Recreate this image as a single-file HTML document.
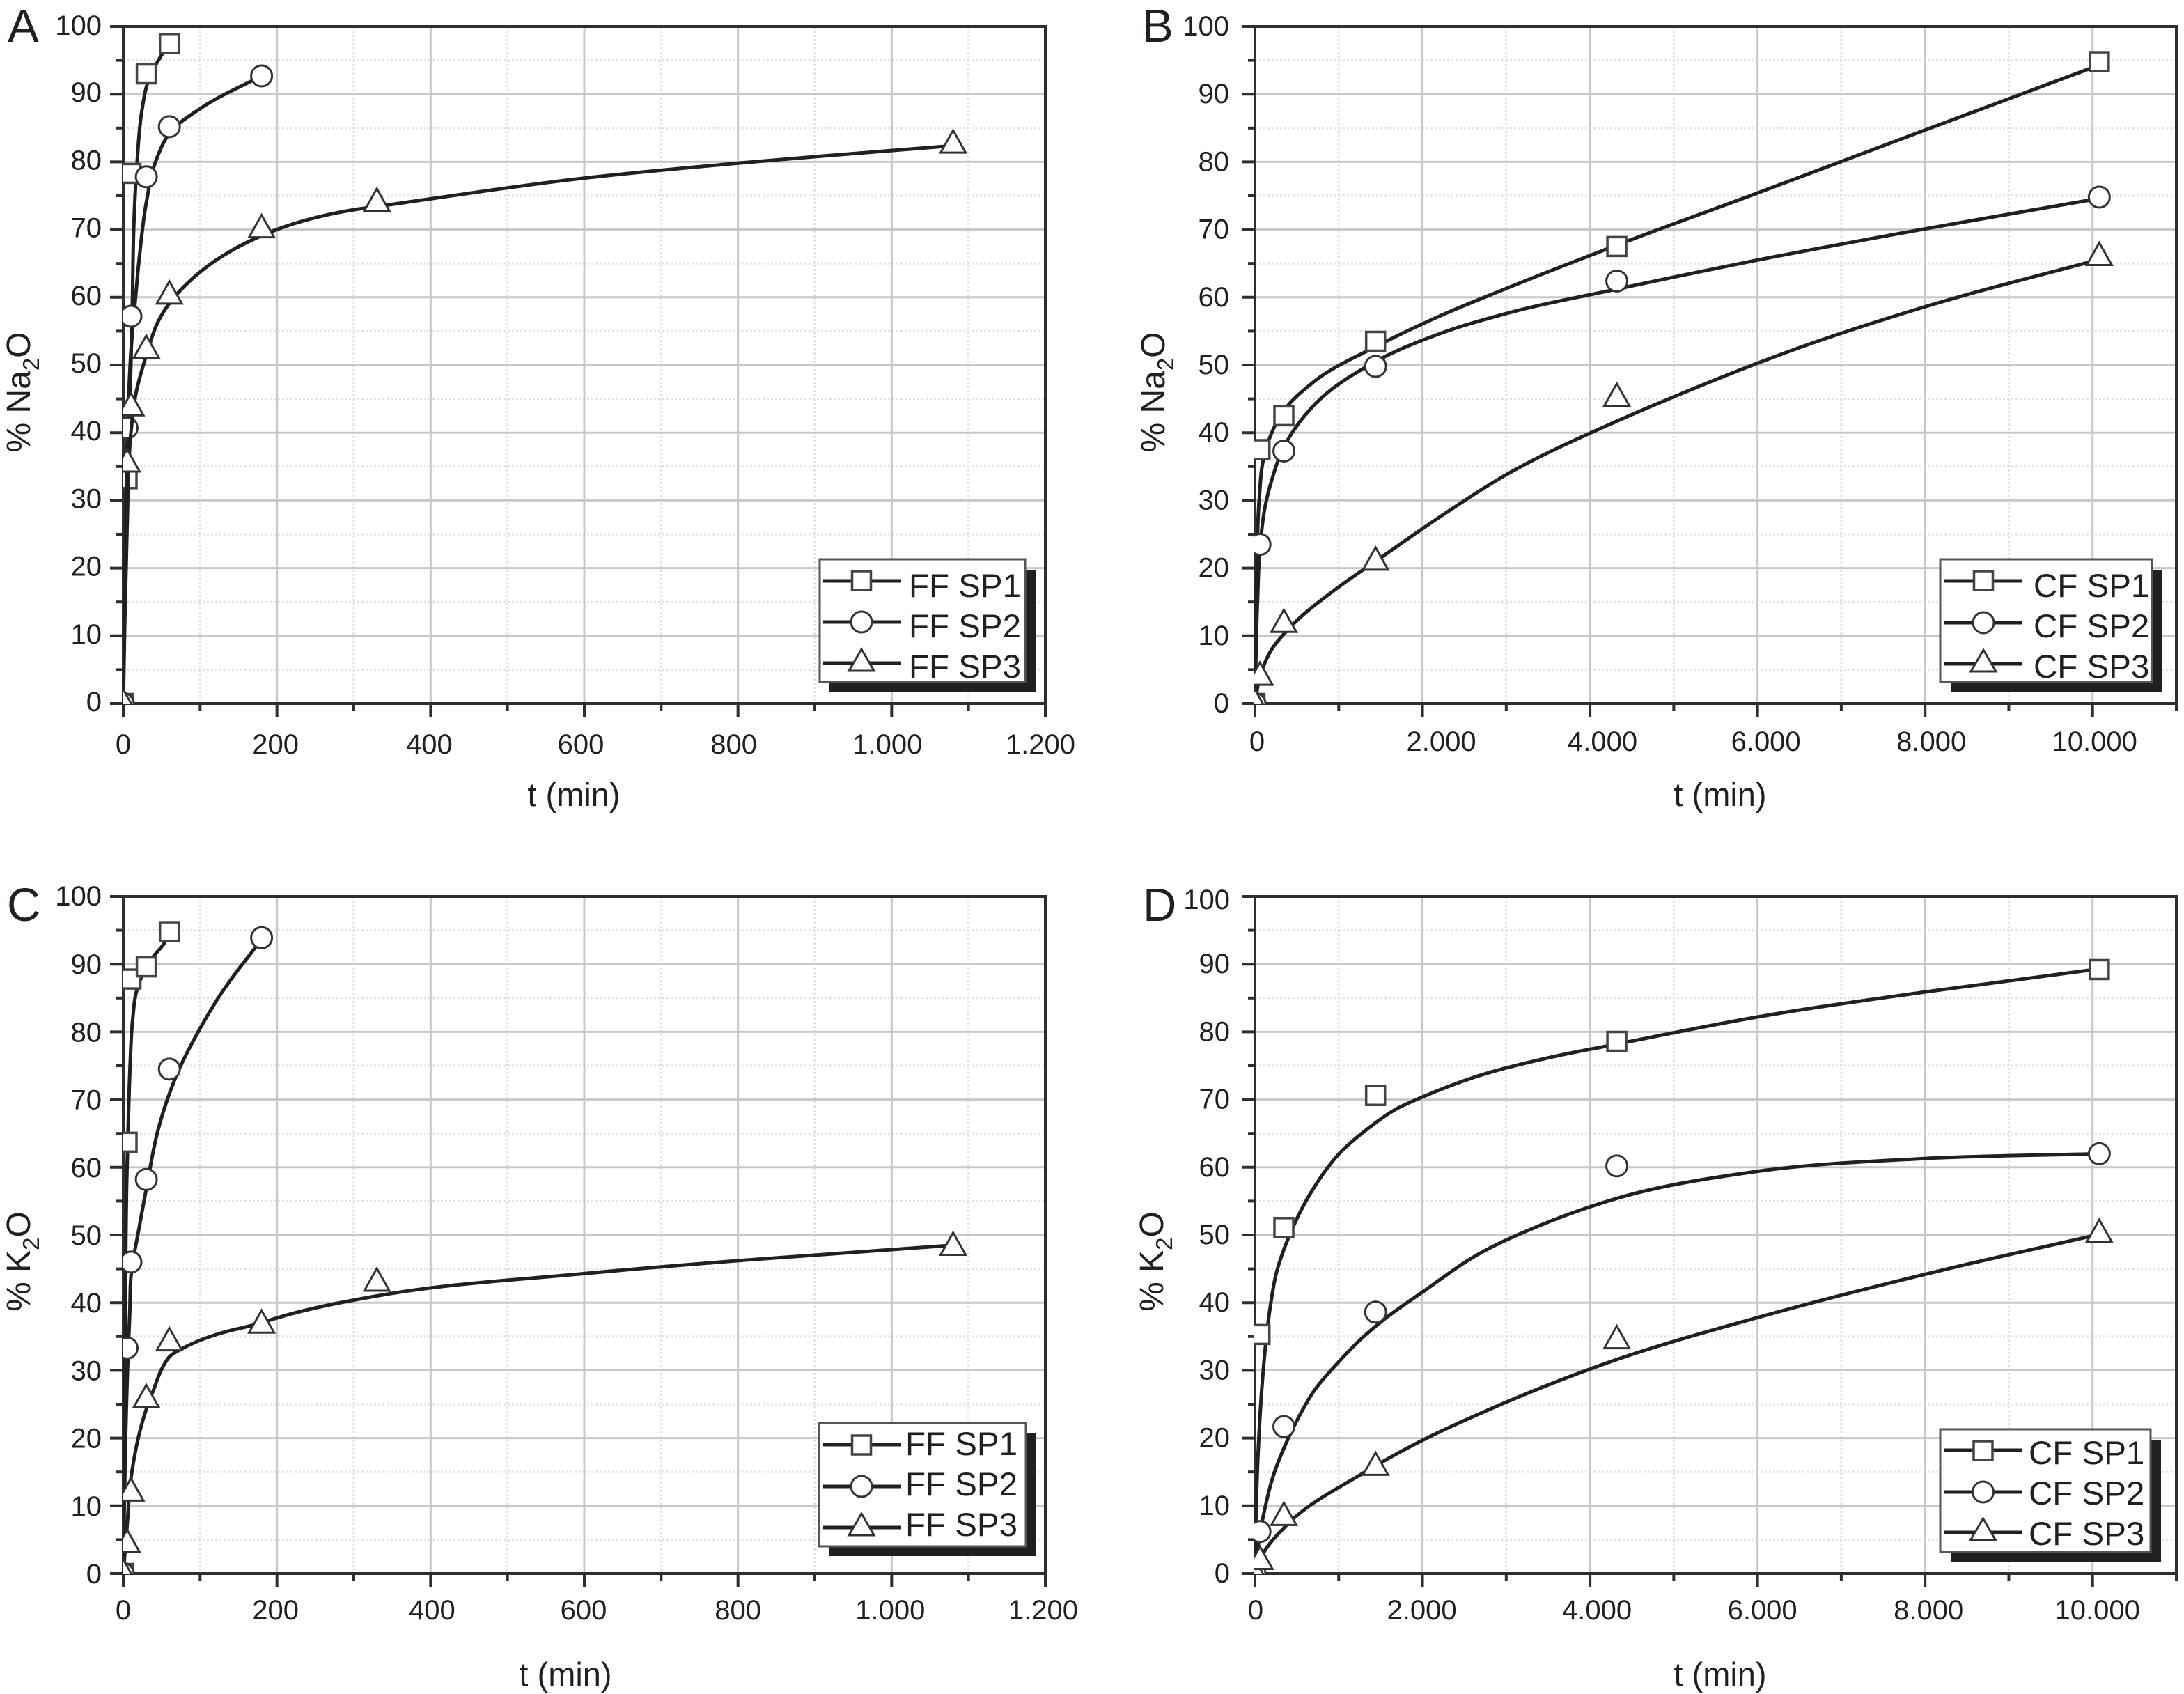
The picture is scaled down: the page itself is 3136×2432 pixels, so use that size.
<!DOCTYPE html>
<html lang="en">
<head>
<meta charset="utf-8">
<title>Na2O and K2O release versus time</title>
<style>
html,body{margin:0;padding:0;background:#fff;}
svg{display:block;}
text{font-family:"Liberation Sans",Arial,sans-serif;fill:#231f20;}
.leg{font-size:47.5px;}
.axt{font-size:47px;}
.ylt{font-size:48px;}
.let{font-size:67px;}
.tick{font-size:40px;}
</style>
</head>
<body>
<svg id="fig" xmlns="http://www.w3.org/2000/svg" width="3136" height="2432" viewBox="0 0 3136 2432">
<rect x="0" y="0" width="3136" height="2432" fill="#fff"/>
<g id="plot-a"></g>
<g id="plot-b"></g>
<g id="plot-c"></g>
<g id="plot-d"></g>

<text class="let" x="11" y="60">A</text>
<text class="let" x="1640" y="60">B</text>
<text class="let" x="10" y="1322">C</text>
<text class="let" x="1641" y="1322">D</text>

<text class="axt" x="824" y="1157" text-anchor="middle">t (min)</text>
<text class="axt" x="2470" y="1157" text-anchor="middle">t (min)</text>
<text class="axt" x="812" y="2420" text-anchor="middle">t (min)</text>
<text class="axt" x="2470" y="2420" text-anchor="middle">t (min)</text>

<text class="ylt" transform="translate(43,563) rotate(-90)" text-anchor="middle">% Na<tspan font-size="33" dy="13">2</tspan><tspan dy="-13">O</tspan></text>
<text class="ylt" transform="translate(1672,563) rotate(-90)" text-anchor="middle">% Na<tspan font-size="33" dy="13">2</tspan><tspan dy="-13">O</tspan></text>
<text class="ylt" transform="translate(43,1811) rotate(-90)" text-anchor="middle">% K<tspan font-size="33" dy="13">2</tspan><tspan dy="-13">O</tspan></text>
<text class="ylt" transform="translate(1670,1811) rotate(-90)" text-anchor="middle">% K<tspan font-size="33" dy="13">2</tspan><tspan dy="-13">O</tspan></text>

<g>
  <rect x="1191" y="818" width="296" height="176" fill="#231f20"/>
  <rect x="1177" y="803" width="295" height="176" fill="#fff" stroke="#555" stroke-width="3"/>
  <g><line x1="1182" x2="1294" y1="834" y2="834" stroke="#231f20" stroke-width="5"/><rect x="1223.5" y="820" width="27" height="27" fill="#fff" stroke="#444" stroke-width="3.5"/><text class="leg" x="1305" y="857">FF SP1</text></g>
  <g><line x1="1182" x2="1294" y1="893" y2="893" stroke="#231f20" stroke-width="5"/><circle cx="1237" cy="893" r="15" fill="#fff" stroke="#333" stroke-width="3"/><text class="leg" x="1305" y="915">FF SP2</text></g>
  <g><line x1="1182" x2="1294" y1="952" y2="952" stroke="#231f20" stroke-width="5"/><polygon points="1237,932 1255,963 1219,963" fill="#fff" stroke="#333" stroke-width="3"/><text class="leg" x="1305" y="973">FF SP3</text></g>
</g>
<g>
  <rect x="2801" y="818" width="304" height="176" fill="#231f20"/>
  <rect x="2786" y="803" width="304" height="176" fill="#fff" stroke="#555" stroke-width="3"/>
  <g><line x1="2792" x2="2904" y1="834" y2="834" stroke="#231f20" stroke-width="5"/><rect x="2834.5" y="820" width="27" height="27" fill="#fff" stroke="#444" stroke-width="3.5"/><text class="leg" x="2920" y="857">CF SP1</text></g>
  <g><line x1="2792" x2="2904" y1="894" y2="894" stroke="#231f20" stroke-width="5"/><circle cx="2848" cy="894" r="15" fill="#fff" stroke="#333" stroke-width="3"/><text class="leg" x="2920" y="915">CF SP2</text></g>
  <g><line x1="2792" x2="2904" y1="953" y2="953" stroke="#231f20" stroke-width="5"/><polygon points="2848,933 2866,964 2830,964" fill="#fff" stroke="#333" stroke-width="3"/><text class="leg" x="2920" y="973">CF SP3</text></g>
</g>
<g>
  <rect x="1190" y="2058" width="297" height="176" fill="#231f20"/>
  <rect x="1176" y="2043" width="297" height="177" fill="#fff" stroke="#555" stroke-width="3"/>
  <g><line x1="1182" x2="1294" y1="2074" y2="2074" stroke="#231f20" stroke-width="5"/><rect x="1223.5" y="2061" width="27" height="27" fill="#fff" stroke="#444" stroke-width="3.5"/><text class="leg" x="1300" y="2089">FF SP1</text></g>
  <g><line x1="1182" x2="1294" y1="2134" y2="2134" stroke="#231f20" stroke-width="5"/><circle cx="1237" cy="2134" r="15" fill="#fff" stroke="#333" stroke-width="3"/><text class="leg" x="1300" y="2147">FF SP2</text></g>
  <g><line x1="1182" x2="1294" y1="2193" y2="2193" stroke="#231f20" stroke-width="5"/><polygon points="1237,2173 1255,2204 1219,2204" fill="#fff" stroke="#333" stroke-width="3"/><text class="leg" x="1300" y="2205">FF SP3</text></g>
</g>
<g>
  <rect x="2801" y="2067" width="302" height="175" fill="#231f20"/>
  <rect x="2786" y="2052" width="302" height="176" fill="#fff" stroke="#555" stroke-width="3"/>
  <g><line x1="2792" x2="2903" y1="2082" y2="2082" stroke="#231f20" stroke-width="5"/><rect x="2834" y="2069" width="27" height="27" fill="#fff" stroke="#444" stroke-width="3.5"/><text class="leg" x="2913" y="2102">CF SP1</text></g>
  <g><line x1="2792" x2="2903" y1="2142" y2="2142" stroke="#231f20" stroke-width="5"/><circle cx="2847.5" cy="2142" r="15" fill="#fff" stroke="#333" stroke-width="3"/><text class="leg" x="2913" y="2160">CF SP2</text></g>
  <g><line x1="2792" x2="2903" y1="2200" y2="2200" stroke="#231f20" stroke-width="5"/><polygon points="2847.5,2180 2865.5,2211 2829.5,2211" fill="#fff" stroke="#333" stroke-width="3"/><text class="leg" x="2913" y="2218">CF SP3</text></g>
</g>
</svg>
<script>
// Axis ticks and labels
const yMajorTicks = [0,10,20,30,40,50,60,70,80,90,100];
const yMinorTicks = [5,15,25,35,45,55,65,75,85,95];
const yTickLabels = ['0','10','20','30','40','50','60','70','80','90','100'];
const ffMajorTicks = [0,200,400,600,800,1000,1200];
const ffMinorTicks = [100,300,500,700,900,1100];
const ffTickLabels = ['0','200','400','600','800','1.000','1.200'];
const cfMajorTicks = [0,2000,4000,6000,8000,10000];
const cfMinorTicks = [1000,3000,5000,7000,9000,11000];
const cfTickLabels = ['0','2.000','4.000','6.000','8.000','10.000'];

// Sampling times (min)
const ffSp1Times = [0,5,10,30,60];
const ffSp2Times = [0,5,10,30,60,180];
const ffSp3Times = [0,5,10,30,60,180,330,1080];
const cfTimes = [0,60,345,1440,4320,10080];

// Panel A: Na2O, fine fraction
const aSp1Values = [0,33.2,78.3,93,97.5];
const aSp2Values = [0,40.7,57.2,77.8,85.2,92.7];
const aSp3Values = [0,35.5,43.8,52.3,60.3,70.1,74,82.6];
const aSp1FitT = [0,1,2.7,4.5,7,10,12,13.6,18,24,31,51,60];
const aSp1FitV = [0,10,20,30,40,50,60,70,80,87.4,91.4,96,97.5];
const aSp2FitT = [0,3,6,10,16,21,30,42,60,102,166,180];
const aSp2FitV = [0,25,42,52,60,66,74,80,84.2,88,91.9,92.7];
const aSp3FitT = [0,2,5,10,16,30,48,64,81,111,141,178,202,293,330,600,800,1080];
const aSp3FitV = [0,12,26,40,45.5,51.4,57,59.7,61.8,64.7,66.9,69,70.1,72.8,73.4,77.6,79.8,82.4];

// Panel B: Na2O, coarse fraction
const bSp1Values = [0,37.5,42.5,53.5,67.5,94.8];
const bSp2Values = [0,23.5,37.3,49.8,62.4,74.8];
const bSp3Values = [0,4,11.8,21,45.2,66];
const bSp1FitT = [0,20,50,100,200,330,700,1440,2200,3000,4320,6000,8000,10080];
const bSp1FitV = [0,18,30,36,40,43,47.5,52.7,57.2,61.3,67.7,75.4,84.7,94.3];
const bSp2FitT = [0,30,60,120,200,330,700,1440,2200,3000,4320,6000,8000,10080];
const bSp2FitV = [0,15,23,29,33,37.5,44,50.5,54.6,57.6,61.2,65.5,70.1,74.6];
const bSp3FitT = [0,60,200,400,1032,1440,2200,3000,4320,5000,6486,8000,10080];
const bSp3FitV = [0,4,8,11,17.5,21,27.5,33.8,41.7,45.3,52.5,58.6,65.6];

// Panel C: K2O, fine fraction
const cSp1Values = [0,63.7,87.8,89.6,94.8];
const cSp2Values = [0,33.3,46,58.2,74.5,93.9];
const cSp3Values = [0,4.4,12,25.8,34.2,36.8,43,48.3];
const cSp1FitT = [0,1,2.5,4.5,7,9,12,18,30,39,54,60];
const cSp1FitV = [0,15,35,58,68.5,75.3,81.5,86.3,89.5,91.1,93.2,94.6];
const cSp2FitT = [0,3,5.5,8.5,10,21,30,45,57,72,100,127,151,172,180];
const cSp2FitV = [0,19.8,30,38.7,43.8,51.3,56.8,65.4,69.9,74.3,80.5,85.6,89.4,92.5,93.8];
const cSp3FitT = [0,5,10,31,39,51,60,78,99,130,166,220,330,600,800,1080];
const cSp3FitV = [0,7,14,24.6,27,30.4,32,33.3,34.4,35.6,36.6,38.4,41,44.3,46.2,48.5];

// Panel D: K2O, coarse fraction
const dSp1Values = [0,35.3,51.1,70.6,78.6,89.2];
const dSp2Values = [0,6.2,21.7,38.6,60.2,62];
const dSp3Values = [0,1.9,8.4,15.8,34.5,50.2];
const dSp1FitT = [0,15,42,83,125,175,258,424,715,998,1347,1671,2004,2619,3476,4320,6000,8000,10080];
const dSp1FitV = [0,10,19,27.5,33.5,38.7,44.5,50.3,57.2,61.9,65.7,68.5,70.4,73.3,76.1,78.2,82.2,85.9,89.3];
const dSp2FitT = [0,30,108,208,399,540,707,981,1255,1538,2004,2644,3400,4320,6000,8000,10080];
const dSp2FitV = [0,3.5,9,14,20,23.5,27,31,34.5,37.5,41.6,47,51.4,55.4,59.4,61.3,62];
const dSp3FitT = [0,91,374,1289,2004,2644,4320,6000,8000,10080];
const dSp3FitV = [0,2.8,7.1,14.8,19.7,23.4,31.6,37.8,44.2,50.1];

const NS = 'http://www.w3.org/2000/svg';
function mk(parent, tag, attrs, txt) {
  const e = document.createElementNS(NS, tag);
  for (const k in attrs) e.setAttribute(k, attrs[k]);
  if (txt !== undefined) e.textContent = txt;
  parent.appendChild(e);
  return e;
}
// smooth path; the tangent at each point is the one of the circle through its neighbours
function smoothPath(pts) {
  let d = 'M' + pts[0][0].toFixed(1) + ' ' + pts[0][1].toFixed(1);
  function tan(i) {
    if (i === 0 || i === pts.length - 1) {
      const a = pts[i === 0 ? 0 : i - 1], b = pts[i === 0 ? 1 : i];
      const n0 = Math.hypot(b[0] - a[0], b[1] - a[1]) || 1;
      return [(b[0] - a[0]) / n0, (b[1] - a[1]) / n0];
    }
    const a = pts[i - 1], p = pts[i], b = pts[i + 1];
    const l1 = Math.hypot(p[0] - a[0], p[1] - a[1]) || 1, l2 = Math.hypot(b[0] - p[0], b[1] - p[1]) || 1;
    const dx = (p[0] - a[0]) / l1 * l2 + (b[0] - p[0]) / l2 * l1;
    const dy = (p[1] - a[1]) / l1 * l2 + (b[1] - p[1]) / l2 * l1;
    const n = Math.hypot(dx, dy) || 1;
    return [dx / n, dy / n];
  }
  for (let i = 0; i < pts.length - 1; i++) {
    const p = pts[i], q = pts[i + 1], len = Math.hypot(q[0] - p[0], q[1] - p[1]) / 3;
    const t0 = tan(i), t1 = tan(i + 1);
    d += 'C' + (p[0] + t0[0] * len).toFixed(1) + ' ' + (p[1] + t0[1] * len).toFixed(1) + ' ' +
         (q[0] - t1[0] * len).toFixed(1) + ' ' + (q[1] - t1[1] * len).toFixed(1) + ' ' +
         q[0].toFixed(1) + ' ' + q[1].toFixed(1);
  }
  return d;
}
function drawMarker(g, kind, x, y) {
  if (kind === 'square') return mk(g, 'rect', {x: x - 13.5, y: y - 13.5, width: 27, height: 27, fill: '#fff', stroke: '#444', 'stroke-width': 3.5});
  if (kind === 'circle') return mk(g, 'circle', {cx: x, cy: y, r: 15, fill: '#fff', stroke: '#333', 'stroke-width': 3});
  return mk(g, 'polygon', {points: (x) + ',' + (y - 20) + ' ' + (x + 18) + ',' + (y + 12) + ' ' + (x - 18) + ',' + (y + 12), fill: '#fff', stroke: '#333', 'stroke-width': 3});
}
function drawPanel(p) {
  const root = document.getElementById('plot-' + p.id);
  const xOf = t => p.x0 + (t / p.xMax) * (p.x1 - p.x0);
  const yOf = v => p.y0 + (v / 100) * (p.y100 - p.y0);
  const ink = '#2e2e2e';
  const grid = mk(root, 'g', {fill: 'none'});
  
  
  p.xMinor.forEach(t => { mk(grid, 'line', {x1: xOf(t), x2: xOf(t), y1: p.y100, y2: p.y0, stroke: '#e2e2e2', 'stroke-width': 3, 'stroke-dasharray': '3 3'}); });
  yMinorTicks.forEach(v => { mk(grid, 'line', {x1: p.x0, x2: p.x1, y1: yOf(v), y2: yOf(v), stroke: '#e2e2e2', 'stroke-width': 3, 'stroke-dasharray': '3 3'}); });
  p.xMajor.slice(1, p.xGridEnd).forEach(t => { mk(grid, 'line', {x1: xOf(t), x2: xOf(t), y1: p.y100, y2: p.y0, stroke: '#c8c8c8', 'stroke-width': 3}); });
  yMajorTicks.slice(1, 10).forEach(v => { mk(grid, 'line', {x1: p.x0, x2: p.x1, y1: yOf(v), y2: yOf(v), stroke: '#c8c8c8', 'stroke-width': 3}); });

  const axes = mk(root, 'g', {fill: 'none', stroke: ink});
  
  
  mk(axes, 'rect', {x: p.x0, y: p.y100, width: p.x1 - p.x0, height: p.y0 - p.y100, 'stroke-width': 4});
  yMajorTicks.forEach(v => { mk(axes, 'line', {x1: p.x0 - 19, x2: p.x0, y1: yOf(v), y2: yOf(v), 'stroke-width': 4}); });
  yMinorTicks.forEach(v => { mk(axes, 'line', {x1: p.x0 - 10, x2: p.x0, y1: yOf(v), y2: yOf(v), 'stroke-width': 4}); });
  p.xMajor.forEach(t => { mk(axes, 'line', {x1: xOf(t), x2: xOf(t), y1: p.y0, y2: p.y0 + 19, 'stroke-width': 4}); });
  p.xMinor.forEach(t => { mk(axes, 'line', {x1: xOf(t), x2: xOf(t), y1: p.y0, y2: p.y0 + 11, 'stroke-width': 4}); });

  const yLab = mk(root, 'g', {});
  
  
  yMajorTicks.forEach((v, i) => {
    const base = yOf(v) + (v === 100 ? p.yTopBase : p.yBase);
    mk(yLab, 'text', {class: 'tick', x: p.yRight, y: base, 'text-anchor': 'end'}, yTickLabels[i]);
  });
  const xLab = mk(root, 'g', {});
  
  
  p.xMajor.forEach((t, i) => {
    mk(xLab, 'text', {class: 'tick', x: xOf(t) + p.nudge[i], y: p.xBase, 'text-anchor': 'middle'}, p.xLabels[i]);
  });

  const clipId = 'clip-' + p.id;
  const defs = mk(root, 'defs', {});
  const cp = mk(defs, 'clipPath', {id: clipId});
  mk(cp, 'rect', {x: p.x0 - 1, y: p.y100, width: p.x1 - p.x0 + 1, height: p.y0 - p.y100 + 1});
  const plot = mk(root, 'g', {'clip-path': 'url(#' + clipId + ')'});
  
  
  p.series.forEach(s => {
    const g = mk(plot, 'g', {});
    
    
    const pts = s.fitT.map((t, i) => [xOf(t), yOf(s.fitV[i])]);
    const path = mk(g, 'path', {d: smoothPath(pts), fill: 'none', stroke: '#231f20', 'stroke-width': 5, 'stroke-linejoin': 'round'});
    
    
    s.t.forEach((t, i) => {
      const m = drawMarker(g, s.kind, xOf(t), yOf(s.v[i]));
      
      
    });
  });
}
function series(prefix, names, times, vals, fitTs, fitVs) {
  const kinds = ['square', 'circle', 'triangle'];
  return kinds.map((k, i) => ({name: prefix + '-' + names[i], kind: k, t: times[i], v: vals[i], fitT: fitTs[i], fitV: fitVs[i]}));
}
const spNames = ['sp1', 'sp2', 'sp3'];
const ffTimeSets = [ffSp1Times, ffSp2Times, ffSp3Times];
const cfTimeSets = [cfTimes, cfTimes, cfTimes];
drawPanel({id: 'a', x0: 177, x1: 1501, xMax: 1200, y0: 1010, y100: 38, xMajor: ffMajorTicks, xMinor: ffMinorTicks, xLabels: ffTickLabels, xGridEnd: 6,
  yRight: 146, yBase: 11, yTopBase: 12, xBase: 1082, nudge: [0,-2,-2,-5,-6,-6,-7],
  series: series('ff', spNames, ffTimeSets, [aSp1Values, aSp2Values, aSp3Values], [aSp1FitT, aSp2FitT, aSp3FitT], [aSp1FitV, aSp2FitV, aSp3FitV])});
drawPanel({id: 'b', x0: 1802, x1: 3125, xMax: 11000, y0: 1010, y100: 38, xMajor: cfMajorTicks, xMinor: cfMinorTicks, xLabels: cfTickLabels, xGridEnd: 6,
  yRight: 1765, yBase: 13, yTopBase: 13, xBase: 1078, nudge: [3,27,18,12,9,3],
  series: series('cf', spNames, cfTimeSets, [bSp1Values, bSp2Values, bSp3Values], [bSp1FitT, bSp2FitT, bSp3FitT], [bSp1FitV, bSp2FitV, bSp3FitV])});
drawPanel({id: 'c', x0: 177, x1: 1501, xMax: 1200, y0: 2259, y100: 1287, xMajor: ffMajorTicks, xMinor: ffMinorTicks, xLabels: ffTickLabels, xGridEnd: 6,
  yRight: 146, yBase: 14, yTopBase: 13, xBase: 2325, nudge: [0,-2,2,-1,0,-2,-3],
  series: series('ff', spNames, ffTimeSets, [cSp1Values, cSp2Values, cSp3Values], [cSp1FitT, cSp2FitT, cSp3FitT], [cSp1FitV, cSp2FitV, cSp3FitV])});
drawPanel({id: 'd', x0: 1802, x1: 3125, xMax: 11000, y0: 2259, y100: 1287, xMajor: cfMajorTicks, xMinor: cfMinorTicks, xLabels: cfTickLabels, xGridEnd: 6,
  yRight: 1766, yBase: 13, yTopBase: 18, xBase: 2325, nudge: [1,-1,10,7,5,7],
  series: series('cf', spNames, cfTimeSets, [dSp1Values, dSp2Values, dSp3Values], [dSp1FitT, dSp2FitT, dSp3FitT], [dSp1FitV, dSp2FitV, dSp3FitV])});
</script>
</body>
</html>
